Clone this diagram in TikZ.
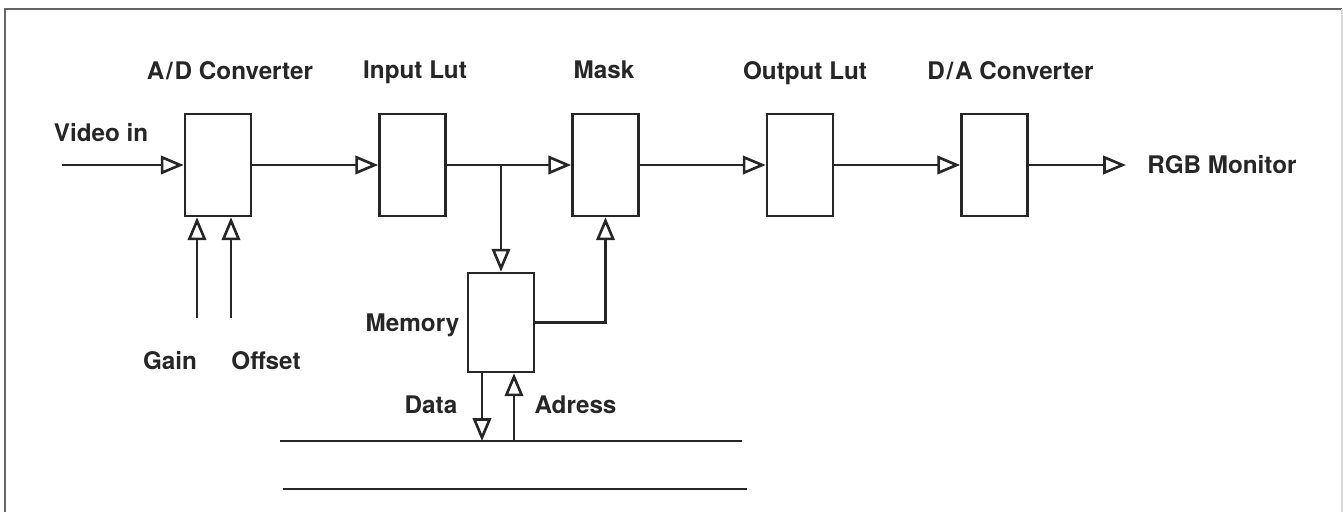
\documentclass[tikz,border=0pt]{standalone}
\usepackage{fontspec}
\setmainfont{TeX Gyre Heros}
\usetikzlibrary{arrows.meta}
\tikzset{
  blk/.style={draw=black!85, line width=1.5pt, minimum width=1.32cm, minimum height=2.04cm, inner sep=0pt},
  lbl/.style={text=black!85, font=\fontsize{13.8}{16}\selectfont\bfseries, anchor=base, inner sep=0pt},
  sig/.style={draw=black!85, line width=1.5pt, -{Triangle[open, length=13pt, width=10.5pt]}},
  bus/.style={draw=black!85, line width=1.5pt}
}
\begin{document}
\begin{tikzpicture}[x=0.02cm, y=-0.02cm]
	  \useasboundingbox (0,0) rectangle (1343,512);
	  \draw[black!60, line width=1.2pt] (5,512) -- (5,9) -- (1342,9);
	  \draw[black!15, line width=1pt] (1342,9) -- (1342,512);
	  
	  \node[blk] (ad) at (218,165) {};
	  \node[blk] (ilut) at (412.5,165) {};
	  \node[blk] (mask) at (605.5,165) {};
	  \node[blk] (olut) at (800,165) {};
	  \node[blk] (da) at (994.5,165) {};
	  \node[blk, minimum height=1.98cm] (mem) at (501,322.5) {};
	  
	  \node[lbl] (tad) at (230,79) {A\kern1pt/\kern1pt D Converter};
	  \node[lbl] (tilut) at (415,78) {Input Lut};
	  \node[lbl] (tmask) at (604,78) {Mask};
	  \node[lbl] (tolut) at (805,79) {Output Lut};
	  \node[lbl] (tda) at (1010.5,79) {D\kern1pt/\kern1pt A Converter};
	  \node[lbl] (tvin) at (101,141) {Video in};
	  \node[lbl, anchor=base west] (trgb) at (1147,173) {RGB Monitor};
	  \node[lbl] (tgain) at (170,369) {Gain};
	  \node[lbl] (toff) at (266,369) {Offset};
	  \node[lbl] (tmem) at (412.5,331) {Memory};
	  \node[lbl] (tdata) at (431,413) {Data};
	  \node[lbl] (tadr) at (575.5,413) {Adress};
	  
	  \coordinate (vin) at (62,165);
	  \coordinate (rgb) at (1126,165);
	  \coordinate (gain) at (197,318);
	  \coordinate (off) at (231,318);
	  \coordinate (br) at (mem.north |- ilut.east);
	  \coordinate (dat) at (482,441);
	  \coordinate (adr) at (514,441);
	  \coordinate (b1l) at (280,441);
	  \coordinate (b1r) at (742,441);
	  \coordinate (b2l) at (283,489);
	  \coordinate (b2r) at (747,489);
	  
	  \draw[sig] (vin) -- (ad.west);
	  \draw[sig] (ad.east) -- (ilut.west);
	  \draw[sig] (ilut.east) -- (mask.west);
	  \draw[sig] (mask.east) -- (olut.west);
	  \draw[sig] (olut.east) -- (da.west);
	  \draw[sig] (da.east) -- (rgb);
	  \draw[sig] (gain) -- (gain |- ad.south);
	  \draw[sig] (off) -- (off |- ad.south);
	  \draw[sig] (br) -- (mem.north);
	  \draw[sig] (mem.east) -| (mask.south);
	  \draw[sig] (dat |- mem.south) -- (dat);
	  \draw[sig] (adr) -- (adr |- mem.south);
	  \draw[bus] (b1l) -- (b1r);
	  \draw[bus] (b2l) -- (b2r);
	\end{tikzpicture}
\end{document}
